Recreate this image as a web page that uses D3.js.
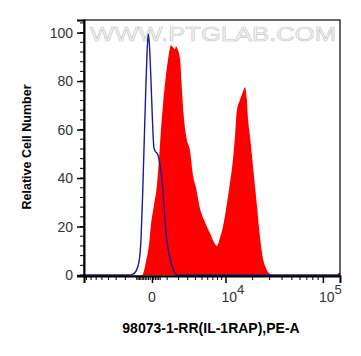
<!DOCTYPE html>
<html>
<head>
<meta charset="utf-8">
<script src="https://cdn.jsdelivr.net/npm/d3@7"></script>
<style>
  body { margin: 0; background: #fff; }
  svg { display: block; }
</style>
</head>
<body>
<svg width="361" height="356"></svg>
<script>
// PE-A intensity (x) and relative cell number (y)
const sampleX = [-8574, -620, -356, -172, -56, 114, 293, 420, 552, 689, 908, 1061, 1221, 1304, 1475, 1653, 1746, 1936, 2134, 2342, 2558, 2901, 3267, 3657, 4073, 4671, 5495, 6413, 7222, 7877, 8574, 9317, 10111, 11253, 12176, 12825, 13502, 14576, 15720, 16527, 17366, 17800, 18697, 19634, 21114, 22158, 23808, 25568, 27446, 29450, 32333, 120000, 136950, 141000, 145700];
const sampleY = [0, 0, 5.4, 12.4, 20.6, 28.9, 37.1, 47.4, 59.8, 70.1, 82.5, 88.7, 93.6, 94.8, 94.0, 93.2, 94.4, 92.8, 89.5, 76.3, 64.7, 55.7, 51.5, 41.2, 36.3, 27.6, 21.9, 17.3, 13.6, 12.0, 15.3, 19.8, 26.8, 37.9, 47.4, 56.9, 68.0, 72.2, 75.5, 77.5, 72.2, 65.2, 57.7, 49.5, 37.1, 28.9, 16.1, 7.0, 2.9, 0.8, 0, 0, 0, 0.8, 0.8];

const controlX = [-8574, -1746, -1304, -1061, -833, -689, -585, -485, -388, -293, -214, -143, -56, 28, 114, 232, 356, 485, 620, 760, 908, 1061, 1221, 1389, 1563, 1840, 145700];
const controlY = [0, 0, 0.4, 1.6, 5.4, 14.4, 30.9, 51.5, 72.2, 90.7, 99.4, 94.8, 80.4, 63.9, 52.4, 50.7, 49.5, 45.4, 39.2, 28.9, 17.7, 11.1, 7.0, 3.7, 1.6, 0, 0];

const yTicks = [0, 20, 40, 60, 80, 100];
const yMinor = d3.range(0, 105, 4);
const xMajor = [0, 1e4, 1e5];
const xMinor = [-8000, -7000, -6000, -5000, -4000, -3000, -2000, -1000,
  -900, -800, -700, -600, -500, -400, -300, -200, -100,
  100, 200, 300, 400, 500,
  1000, 2000, 3000, 4000, 5000, 6000, 7000, 8000, 9000,
  20000, 30000, 40000, 50000, 60000, 70000, 80000, 90000];

const svg = d3.select("svg");
const pl = 84, pr = 340, pt = 20, pb = 276;
const font = "'Liberation Sans', Arial, sans-serif";

const x = d3.scaleSymlog().constant(2580).domain([-8574, 145700]).range([pl, pr]);
const y = d3.scaleLinear().domain([-0.4, 105.2]).range([pb, pt]);

// watermark
svg.append("text")
  .attr("x", 90).attr("y", 41)
  .attr("textLength", 246)
  .attr("lengthAdjust", "spacingAndGlyphs")
  .style("font-family", font).style("font-size", "20px")
  .attr("fill", "#f6f6f6").attr("stroke", "#c8c8c8").attr("stroke-width", 0.6)
  .text("WWW.PTGLAB.COM");

const area = d3.area()
  .x((d, i) => x(sampleX[i]))
  .y0(y(0))
  .y1((d, i) => y(sampleY[i]))
  .curve(d3.curveMonotoneX);

svg.append("path")
  .datum(sampleY)
  .attr("d", area)
  .attr("fill", "#ff0000");

const line = d3.line()
  .x((d, i) => x(controlX[i]))
  .y((d, i) => y(controlY[i]))
  .curve(d3.curveMonotoneX);

svg.append("path")
  .datum(controlY)
  .attr("d", line)
  .attr("fill", "none")
  .attr("stroke", "#1c1c96")
  .attr("stroke-width", 1.4);

// frame
svg.append("rect")
  .attr("x", pl).attr("y", pt)
  .attr("width", pr - pl).attr("height", pb - pt)
  .attr("fill", "none").attr("stroke", "#000").attr("stroke-width", 1.2);

// y axis
const gy = svg.append("g").attr("transform", `translate(${pl},0)`);
gy.selectAll(".minor").data(yMinor).enter().append("line")
  .attr("x1", -4).attr("x2", 0)
  .attr("y1", d => y(d)).attr("y2", d => y(d))
  .attr("stroke", "#000").attr("stroke-width", 1);
gy.call(d3.axisLeft(y).tickValues(yTicks).tickSize(7).tickPadding(4));
gy.select(".domain").attr("stroke-width", 2);
gy.selectAll(".tick line").attr("stroke-width", 1.5);
gy.selectAll(".tick text")
  .style("font-family", font).style("font-size", "14px").attr("fill", "#333");

// x axis
const gx = svg.append("g").attr("transform", `translate(0,${pb})`);
gx.selectAll(".minor").data(xMinor).enter().append("line")
  .attr("x1", d => x(d)).attr("x2", d => x(d))
  .attr("y1", 0).attr("y2", 4)
  .attr("stroke", "#000").attr("stroke-width", 1);
gx.call(d3.axisBottom(x).tickValues(xMajor).tickSize(7).tickFormat(""));
gx.select(".domain").attr("stroke-width", 2);
gx.selectAll(".tick line").attr("stroke-width", 1.5);

const lbl = gx.selectAll(".lbl").data(xMajor).enter().append("text")
  .attr("class", "lbl")
  .attr("x", d => d === 0 ? x(d) : x(d) - 4)
  .attr("y", 26)
  .attr("text-anchor", d => d === 0 ? "middle" : "start")
  .style("font-family", font).style("font-size", "14px").attr("fill", "#333");
lbl.append("tspan").text(d => d === 0 ? "0" : "10");
lbl.filter(d => d !== 0).append("tspan")
  .attr("dy", -8).style("font-size", "13px")
  .text(d => Math.round(Math.log10(d)));

// titles
svg.append("text")
  .attr("x", 211).attr("y", 333)
  .attr("text-anchor", "middle")
  .style("font-family", font).style("font-size", "14px").style("font-weight", "bold")
  .text("98073-1-RR(IL-1RAP),PE-A");

svg.append("text")
  .attr("transform", "translate(31,147) rotate(-90)")
  .attr("text-anchor", "middle")
  .style("font-family", font).style("font-size", "12.5px").style("font-weight", "bold")
  .text("Relative Cell Number");
</script>
</body>
</html>
